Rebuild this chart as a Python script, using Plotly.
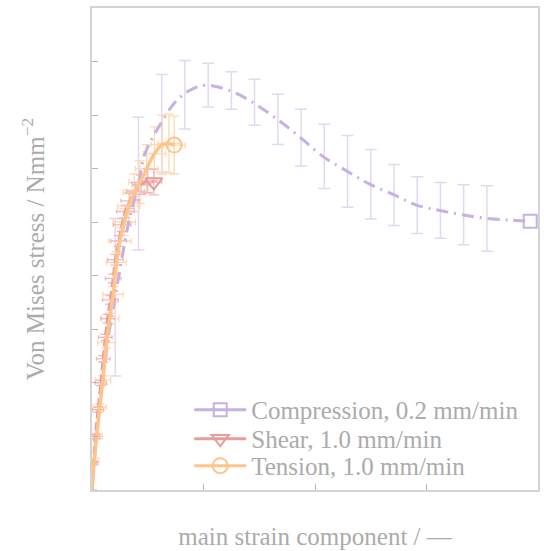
import plotly.graph_objects as go

# ---------------- data ----------------
# Compression, 0.2 mm/min (mean curve)
comp_x = [0.0, 0.02, 0.04, 0.07, 0.10, 0.15, 0.208, 0.27, 0.34, 0.417, 0.47, 0.545, 0.62, 0.71,
          0.786, 0.875, 0.95, 1.027, 1.14, 1.29, 1.44, 1.65, 1.87, 2.07, 2.29, 2.49, 2.71,
          2.91, 3.12, 3.32, 3.54, 3.75, 3.93]
comp_y = [0.0, 0.5, 1.0, 1.6, 2.1, 2.9, 3.6, 4.35, 5.1, 5.72, 6.25, 6.59, 6.85, 7.15,
          7.33, 7.46, 7.53, 7.56, 7.52, 7.41, 7.24, 6.94, 6.58, 6.23, 5.95, 5.71, 5.51,
          5.32, 5.22, 5.14, 5.07, 5.04, 5.02]
# compression scatter (error bars)
comp_err_x = [0.208, 0.417, 0.625, 0.833, 1.042, 1.25, 1.458, 1.667, 1.875, 2.083, 2.292,
              2.5, 2.708, 2.917, 3.125, 3.333, 3.542]
comp_err_y = [3.60, 5.72, 6.85, 7.38, 7.56, 7.46, 7.24, 6.92, 6.58, 6.23, 5.95,
              5.71, 5.51, 5.32, 5.22, 5.14, 5.07]
comp_err = [1.47, 1.24, 0.91, 0.64, 0.41, 0.35, 0.43, 0.47, 0.53, 0.60, 0.67,
            0.65, 0.57, 0.53, 0.52, 0.56, 0.61]

# Shear, 1.0 mm/min
shear_x = [0.0, 0.015, 0.03, 0.055, 0.08, 0.10, 0.12, 0.14, 0.165, 0.19, 0.21, 0.24,
           0.27, 0.30, 0.34, 0.39, 0.44, 0.50, 0.554]
shear_y = [0.0, 0.5, 1.0, 1.5, 2.0, 2.45, 2.85, 3.2, 3.55, 3.95, 4.3, 4.65,
           4.95, 5.2, 5.4, 5.58, 5.7, 5.77, 5.75]
shear_ex = [0.0, 0.03, 0.04, 0.05, 0.05, 0.06, 0.06, 0.06, 0.07, 0.07, 0.07, 0.07,
            0.08, 0.08, 0.08, 0.08, 0.08, 0.08, 0.07]
shear_ey = [0.0, 0.03, 0.04, 0.05, 0.05, 0.06, 0.06, 0.08, 0.08, 0.08, 0.1, 0.1,
            0.12, 0.12, 0.14, 0.16, 0.18, 0.22, 0.24]

# Tension, 1.0 mm/min
ten_x = [0.0, 0.02, 0.042, 0.07, 0.098, 0.13, 0.16, 0.19, 0.22, 0.25, 0.29, 0.33,
         0.38, 0.43, 0.49, 0.56, 0.63, 0.69, 0.737]
ten_y = [0.0, 0.55, 1.0, 1.55, 2.05, 2.75, 3.2, 3.65, 4.25, 4.65, 5.0, 5.3,
         5.55, 5.75, 6.0, 6.28, 6.45, 6.47, 6.44]
ten_ex = [0.0, 0.04, 0.05, 0.06, 0.07, 0.08, 0.08, 0.09, 0.09, 0.1, 0.1, 0.1,
          0.1, 0.1, 0.1, 0.1, 0.1, 0.1, 0.1]
ten_ey = [0.0, 0.04, 0.05, 0.06, 0.08, 0.1, 0.1, 0.15, 0.2, 0.25, 0.25, 0.3,
          0.35, 0.4, 0.45, 0.5, 0.55, 0.55, 0.54]

x_ticks = [1, 2, 3]
y_ticks = [1, 2, 3, 4, 5, 6, 7, 8]

names = ["Compression, 0.2 mm/min", "Shear, 1.0 mm/min", "Tension, 1.0 mm/min"]

# ---------------- style ----------------
C_PURPLE = "#c6b1e0"
C_PURPLE_E = "#e3d8f1"
C_RED = "#e89c9c"
C_RED_E = "#efb9b9"
C_ORANGE = "#ffc48a"
C_ORANGE_E = "#ffd9b0"
TXT = "#ababab"
FRAME = "#d4d4d4"
FONT = "Liberation Serif, Times New Roman, serif"
FS = 25

fig = go.Figure()

# error bar traces
fig.add_trace(go.Scatter(
    x=comp_err_x, y=comp_err_y, mode="markers", showlegend=False, hoverinfo="skip",
    marker=dict(size=1, color="rgba(0,0,0,0)"),
    error_y=dict(type="data", array=comp_err, color=C_PURPLE_E, thickness=1.5, width=6)))
fig.add_trace(go.Scatter(
    x=ten_x, y=ten_y, mode="markers", showlegend=False, hoverinfo="skip",
    marker=dict(size=1, color="rgba(0,0,0,0)"),
    error_x=dict(type="data", array=ten_ex, color=C_ORANGE_E, thickness=1.3, width=3),
    error_y=dict(type="data", array=ten_ey, color=C_ORANGE_E, thickness=1.3, width=5)))
fig.add_trace(go.Scatter(
    x=shear_x, y=shear_y, mode="markers", showlegend=False, hoverinfo="skip",
    marker=dict(size=1, color="rgba(0,0,0,0)"),
    error_x=dict(type="data", array=shear_ex, color=C_RED_E, thickness=1.3, width=2),
    error_y=dict(type="data", array=shear_ey, color=C_RED_E, thickness=1.3, width=5)))

# curves
fig.add_trace(go.Scatter(x=comp_x, y=comp_y, mode="lines", showlegend=False, hoverinfo="skip",
                         line=dict(color=C_PURPLE, width=3, dash="12px,6px,2px,6px", shape="spline")))
fig.add_trace(go.Scatter(x=shear_x, y=shear_y, mode="lines", showlegend=False, hoverinfo="skip",
                         line=dict(color=C_RED, width=3, dash="8px,4px", shape="spline")))
fig.add_trace(go.Scatter(x=ten_x, y=ten_y, mode="lines", showlegend=False, hoverinfo="skip",
                         line=dict(color=C_ORANGE, width=3.5, shape="spline")))

# end markers (also legend entries, each in its own legend box)
fig.add_trace(go.Scatter(x=comp_x[-1:], y=comp_y[-1:], mode="lines+markers", name=names[0],
                         legend="legend",
                         line=dict(color=C_PURPLE, width=3),
                         marker=dict(symbol="square-open", size=13, color=C_PURPLE, line=dict(width=2))))
fig.add_trace(go.Scatter(x=shear_x[-1:], y=shear_y[-1:], mode="lines+markers", name=names[1],
                         legend="legend2",
                         line=dict(color=C_RED, width=3),
                         marker=dict(symbol="triangle-down-open", size=15, color=C_RED, line=dict(width=2))))
fig.add_trace(go.Scatter(x=ten_x[-1:], y=ten_y[-1:], mode="lines+markers", name=names[2],
                         legend="legend3",
                         line=dict(color=C_ORANGE, width=3),
                         marker=dict(symbol="circle-open", size=15, color=C_ORANGE, line=dict(width=2))))

axis_common = dict(showgrid=False, zeroline=False, showline=True, mirror=True,
                   linecolor=FRAME, linewidth=1.5, ticks="inside", ticklen=6,
                   tickcolor="#b5b5b5", tickwidth=1, showticklabels=False)

leg_common = dict(x=0.218, xanchor="left", yanchor="middle", bgcolor="rgba(0,0,0,0)",
                  font=dict(family=FONT, size=FS, color=TXT), itemwidth=52)

fig.update_layout(
    width=544, height=551,
    margin=dict(l=92, r=4, t=8, b=61),
    paper_bgcolor="white", plot_bgcolor="white",
    font=dict(family=FONT, color=TXT, size=FS),
    xaxis=dict(range=[0, 4], tickvals=x_ticks, **axis_common,
               title=dict(text="main strain component / \u2014", font=dict(size=FS, color=TXT),
                          standoff=37)),
    yaxis=dict(range=[0, 9], tickvals=y_ticks, **axis_common,
               title=dict(text="Von Mises stress / Nmm<sup>\u22122</sup>", font=dict(size=FS, color=TXT),
                          standoff=39)),
    legend=dict(y=0.166, **leg_common),
    legend2=dict(y=0.106, **leg_common),
    legend3=dict(y=0.050, **leg_common),
    showlegend=True,
)

fig.write_html("out.html")
